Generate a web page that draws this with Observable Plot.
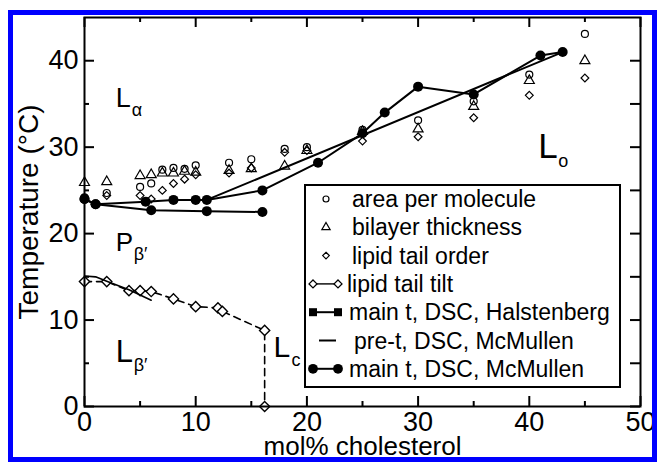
<!DOCTYPE html>
<html><head><meta charset="utf-8">
<script src="https://cdn.jsdelivr.net/npm/d3@7"></script>
<script src="https://cdn.jsdelivr.net/npm/@observablehq/plot@0.6"></script>
<style>
html,body{margin:0;padding:0;background:#fff;}
#wrap{position:relative;width:657px;height:462px;overflow:hidden;}
#chart{position:absolute;left:0;top:0;}
#legend{position:absolute;left:0;top:0;}
#border{position:absolute;left:8px;top:10px;width:649px;height:452px;box-sizing:border-box;border:5px solid #0000ff;pointer-events:none;}
</style></head><body>
<div id="wrap"><div id="chart"></div><svg id="legend" width="657" height="462"></svg><div id="border"></div></div>
<script>
// ---- data ----
const compX   = [0, 2, 5, 6, 7, 8, 9, 10, 13, 15, 18, 20, 25, 30, 35, 40, 45];
const areaY   = [24.2, 24.7, 25.4, 25.8, 27.4, 27.6, 27.5, 27.9, 28.2, 28.6, 29.8, 30.0, 32.0, 33.1, 35.3, 38.4, 43.1];
const thickY  = [25.9, 26.0, 26.7, 26.8, 27.0, 27.0, 27.2, 27.1, 27.3, 27.5, 27.8, 29.6, 31.8, 32.1, 34.7, 37.7, 40.0];
const orderY  = [24.0, 24.4, 24.4, 24.0, 25.0, 25.8, 26.3, 26.8, 27.0, 27.6, 29.4, 29.6, 30.7, 31.2, 33.4, 36.0, 38.0];

const tiltX   = [0, 2, 4, 5, 6, 8, 10, 12, 12.4, 16.2, 16.2];
const tiltY   = [14.45, 14.45, 13.4, 13.4, 13.3, 12.45, 11.55, 11.4, 11.0, 8.8, 0];

const preX    = [0, 1, 2, 4, 6];
const preY    = [15.1, 15.0, 14.5, 13.5, 12.3];

const mainUpX = [0, 1, 5.5, 8, 10, 11, 16, 21, 25, 27, 30, 35, 41, 43];
const mainUpY = [24.0, 23.4, 23.7, 23.9, 23.9, 23.9, 25.0, 28.2, 31.6, 34.0, 37.0, 36.1, 40.6, 41.0];
const mainLoX = [0, 1, 6, 11, 16];
const mainLoY = [24.0, 23.4, 22.7, 22.6, 22.5];
const halstX  = [11, 43];
const halstY  = [23.9, 41.0];

const xMajor = [0, 10, 20, 30, 40, 50];
const xMinor = [5, 15, 25, 35, 45];
const yMajor = [0, 10, 20, 30, 40];
const yMinor = [5, 15, 25, 35];

const phaseX    = [2.8, 2.8, 2.8, 17.0, 40.8];
const phaseY    = [34.6, 18.0, 5.1, 5.7, 28.7];
const phaseMain = ["L", "P", "L", "L", "L"];
const phaseSub  = ["α", "β′", "β′", "c", "o"];
const phaseSize = [27, 26, 31, 30, 35];

const legendLabels = ["area per molecule", "bilayer thickness", "lipid tail order", "lipid tail tilt",
  "main t, DSC, Halstenberg", "pre-t, DSC, McMullen", "main t, DSC, McMullen"];

// ---- tables ----
const pts = (xs, ys) => xs.map((x, i) => ({x, y: ys[i]}));
const area = pts(compX, areaY), thick = pts(compX, thickY), order = pts(compX, orderY);
const tilt = pts(tiltX, tiltY), pre = pts(preX, preY);
const mainUp = pts(mainUpX, mainUpY), mainLo = pts(mainLoX, mainLoY), halst = pts(halstX, halstY);
const phases = phaseX.map((x, i) => ({x, y: phaseY[i], m: phaseMain[i], s: phaseSub[i], fs: phaseSize[i]}));

const W = 657, H = 462, mL = 84, mR = 17, mT = 17, mB = 56;
const pH = H - mT - mB, pW = W - mL - mR;
const font = "Liberation Sans";

const chart = Plot.plot({
  width: W, height: H, marginLeft: mL, marginRight: mR, marginTop: mT, marginBottom: mB,
  x: {domain: [0, 50]}, y: {domain: [0, 45]},
  style: {background: "transparent", color: "black", fontFamily: font},
  marks: [
    Plot.tickX(xMajor, {insetTop: pH - 10, stroke: "black", strokeWidth: 2}),
    Plot.tickX(xMinor, {insetTop: pH - 5, stroke: "black", strokeWidth: 2}),
    Plot.tickX(xMajor, {insetBottom: pH - 10, stroke: "black", strokeWidth: 2}),
    Plot.tickX(xMinor, {insetBottom: pH - 5, stroke: "black", strokeWidth: 2}),
    Plot.tickY(yMajor, {insetRight: pW - 10, stroke: "black", strokeWidth: 2}),
    Plot.tickY(yMinor, {insetRight: pW - 5, stroke: "black", strokeWidth: 2}),
    Plot.tickY(yMajor.concat(yMinor), {insetLeft: pW - 10, stroke: "black", strokeWidth: 2}),
    Plot.axisX({ticks: xMajor, tickSize: 0, tickPadding: 5, fontSize: 27, label: null, anchor: "bottom"}),
    Plot.axisY({ticks: yMajor, tickSize: 0, tickPadding: 6, fontSize: 27, label: null, anchor: "left"}),
    Plot.text(["Temperature (°C)"], {frameAnchor: "left", dx: -47, rotate: -90, textAnchor: "middle", lineAnchor: "bottom", fontSize: 28}),
    Plot.text(["mol% cholesterol"], {frameAnchor: "bottom", dy: 48, textAnchor: "middle", lineAnchor: "bottom", fontSize: 26}),
    Plot.dot(area,  {x: "x", y: "y", symbol: "circle",   r: 3.5, stroke: "black", fill: "none", strokeWidth: 1.2}),
    Plot.dot(thick, {x: "x", y: "y", symbol: "triangle", r: 3.7, stroke: "black", fill: "none", strokeWidth: 1.2}),
    Plot.dot(order, {x: "x", y: "y", symbol: "diamond2", r: 3.5, stroke: "black", fill: "none", strokeWidth: 1.2}),
    Plot.line(tilt, {x: "x", y: "y", stroke: "black", strokeWidth: 1.6, strokeDasharray: "7,5"}),
    Plot.dot(tilt,  {x: "x", y: "y", symbol: "diamond2", r: 4.6, stroke: "black", fill: "white", strokeWidth: 1.4}),
    Plot.line(pre,  {x: "x", y: "y", stroke: "black", strokeWidth: 1.6}),
    Plot.line(halst,  {x: "x", y: "y", stroke: "black", strokeWidth: 2}),
    Plot.line(mainLo, {x: "x", y: "y", stroke: "black", strokeWidth: 2}),
    Plot.dot(mainLo,  {x: "x", y: "y", r: 5, fill: "black"}),
    Plot.line(mainUp, {x: "x", y: "y", stroke: "black", strokeWidth: 2}),
    Plot.dot(mainUp,  {x: "x", y: "y", r: 5, fill: "black"}),
    Plot.text(phases, {x: "x", y: "y", text: "m", fontSize: "fs", textAnchor: "start", lineAnchor: "bottom"}),
    ...phases.map(p => Plot.text([p], {x: "x", y: "y", text: "s", fontSize: 18,
      dx: Math.ceil(p.fs * (p.m === "P" ? 0.67 : 0.57)), dy: 9, textAnchor: "start", lineAnchor: "bottom"})),
    Plot.frame({stroke: "black", strokeWidth: 2})
  ]
});
document.getElementById("chart").appendChild(chart);

// ---- legend ----
const lg = d3.select("#legend");
lg.append("rect").attr("x", 305).attr("y", 185).attr("width", 315).attr("height", 202)
  .attr("fill", "white").attr("stroke", "black").attr("stroke-width", 2);
const rowY = legendLabels.map((_, i) => 199 + i * 28.3);
const textX = [352, 352, 352, 347, 349, 354, 349];
lg.selectAll("text.l").data(legendLabels).join("text")
  .attr("x", (d, i) => textX[i]).attr("y", (d, i) => rowY[i] + 8)
  .style("font-family", font)
  .attr("font-size", 23).attr("fill", "black").text(d => d);
const sym = (type, size) => d3.symbol().type(type).size(size)();
const addSym = (type, size, x, y, fill, sw) => lg.append("path").attr("d", sym(type, size))
  .attr("transform", `translate(${x},${y})`).attr("fill", fill).attr("stroke", "black").attr("stroke-width", sw);
addSym(d3.symbolCircle, 28, 326, rowY[0], "none", 1.2);
addSym(d3.symbolTriangle, 30, 326, rowY[1], "none", 1.2);
addSym(d3.symbolDiamond2, 28, 326, rowY[2], "none", 1.2);
lg.append("line").attr("x1", 313).attr("x2", 338).attr("y1", rowY[3]).attr("y2", rowY[3]).attr("stroke", "black").attr("stroke-width", 1.4);
addSym(d3.symbolDiamond2, 40, 313, rowY[3], "white", 1.3);
addSym(d3.symbolDiamond2, 40, 338, rowY[3], "white", 1.3);
lg.append("line").attr("x1", 313).attr("x2", 338).attr("y1", rowY[4]).attr("y2", rowY[4]).attr("stroke", "black").attr("stroke-width", 2);
addSym(d3.symbolSquare, 64, 313, rowY[4], "black", 0);
addSym(d3.symbolSquare, 64, 338, rowY[4], "black", 0);
lg.append("line").attr("x1", 319).attr("x2", 336).attr("y1", rowY[5]).attr("y2", rowY[5]).attr("stroke", "black").attr("stroke-width", 2);
lg.append("line").attr("x1", 313).attr("x2", 338).attr("y1", rowY[6]).attr("y2", rowY[6]).attr("stroke", "black").attr("stroke-width", 2);
addSym(d3.symbolCircle, 75, 313, rowY[6], "black", 0);
addSym(d3.symbolCircle, 75, 338, rowY[6], "black", 0);
</script>
</body></html>
